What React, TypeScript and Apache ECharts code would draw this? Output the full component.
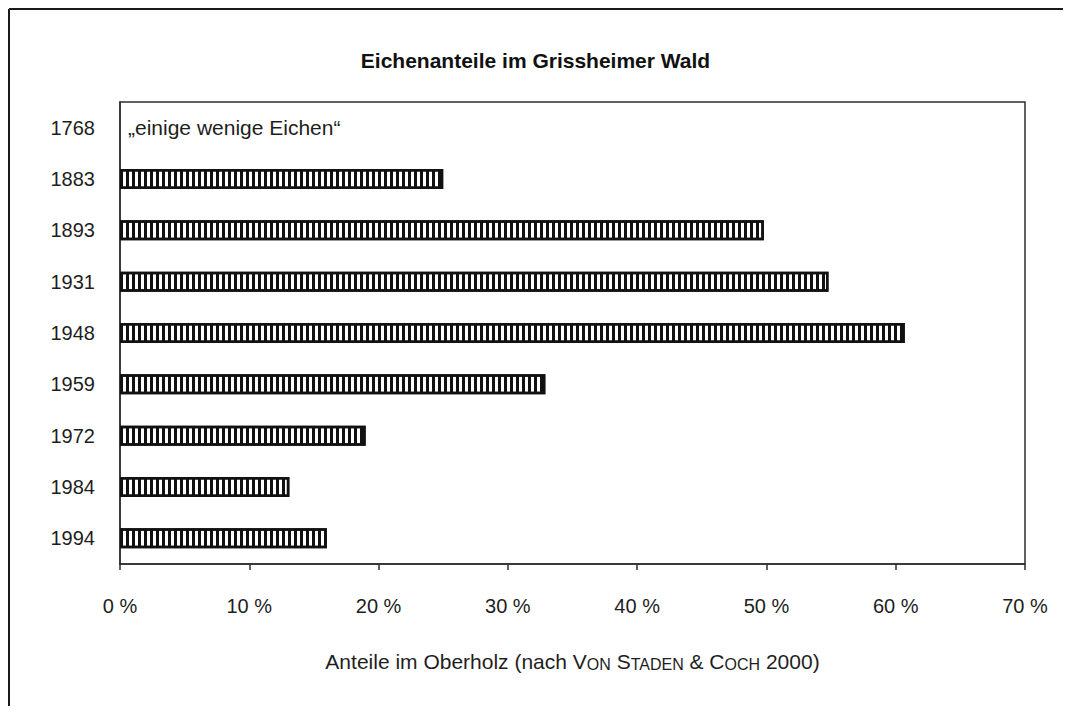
import React, { useEffect, useRef } from "react";
import * as echarts from "echarts";

const title = "Eichenanteile im Grissheimer Wald";
const years = ["1768", "1883", "1893", "1931", "1948", "1959", "1972", "1984", "1994"];
const shares = [0, 25, 49.8, 54.8, 60.7, 32.9, 19.0, 13.1, 16.0];
const noteText = "„einige wenige Eichen“";
const xTicks = [0, 10, 20, 30, 40, 50, 60, 70];
const axisName = "{n|Anteile im Oberholz (nach V}{s|ON}{n| S}{s|TADEN}{n| & C}{s|OCH}{n| 2000)}";

const FONT = "Liberation Sans, Arial, Helvetica, sans-serif";
const TEXT = "#1e1e1e";
const LINE = "#2e2e2e";

export default function App() {
  const ref = useRef<HTMLDivElement>(null);
  useEffect(() => {
    if (!ref.current) return;
    const chart = echarts.init(ref.current, null, { renderer: "svg" });
    const data = shares.map((v, i) =>
      i === 0
        ? {
            value: v,
            itemStyle: { borderWidth: 0, color: "rgba(0,0,0,0)", decal: "none" },
            label: {
              show: true,
              position: "right",
              distance: 8,
              formatter: noteText,
              color: TEXT,
              fontSize: 21,
              fontFamily: FONT,
            },
          }
        : v
    );
    chart.setOption({
      animation: false,
      title: {
        text: title,
        left: "center",
        top: 45,
        textStyle: { fontFamily: FONT, fontSize: 21, fontWeight: "bold", color: "#111" },
      },
      graphic: [
        {
          type: "line",
          silent: true,
          shape: { x1: 9, y1: 9, x2: 1200, y2: 9 },
          style: { stroke: "#1a1a1a", lineWidth: 2 },
        },
        {
          type: "line",
          silent: true,
          shape: { x1: 9, y1: 9, x2: 9, y2: 900 },
          style: { stroke: "#1a1a1a", lineWidth: 2 },
        },
      ],
      grid: {
        left: 120,
        right: 46,
        top: 102,
        bottom: 150,
        show: true,
        borderColor: LINE,
        borderWidth: 1.5,
        backgroundColor: "transparent",
      },
      xAxis: {
        type: "value",
        min: xTicks[0],
        max: xTicks[xTicks.length - 1],
        interval: 10,
        splitLine: { show: false },
        axisLine: { show: true, lineStyle: { color: LINE, width: 1.5 } },
        axisTick: { show: true, length: 6, lineStyle: { color: LINE, width: 1.5 } },
        axisLabel: {
          margin: 32,
          color: TEXT,
          fontSize: 20,
          fontFamily: FONT,
          formatter: (v: number) => `${v} %`,
        },
        name: axisName,
        nameLocation: "middle",
        nameGap: 84,
        nameTextStyle: {
          color: TEXT,
          fontSize: 21,
          fontFamily: FONT,
          rich: {
            n: { fontSize: 21, fontFamily: FONT, color: TEXT, lineHeight: 24, verticalAlign: "bottom" },
            s: { fontSize: 16, fontFamily: FONT, color: TEXT, lineHeight: 24, verticalAlign: "bottom" },
          },
        },
      },
      yAxis: {
        type: "category",
        inverse: true,
        data: years,
        axisLine: { show: true, lineStyle: { color: LINE, width: 1.5 } },
        axisTick: { show: false },
        splitLine: { show: false },
        axisLabel: { margin: 25, color: TEXT, fontSize: 20, fontFamily: FONT },
      },
      series: [
        {
          type: "bar",
          data,
          barWidth: 20,
          itemStyle: {
            color: "#ffffff",
            borderColor: "#111",
            borderWidth: 2.5,
            decal: {
              symbol: "rect",
              symbolSize: 1,
              dashArrayX: [3, 2.5],
              dashArrayY: [10, 0],
              rotation: 0,
              color: "#111",
            },
          },
        },
      ],
    });
    return () => chart.dispose();
  }, []);
  return <div ref={ref} style={{ width: 1071, height: 714, margin: -8, background: "#ffffff" }} />;
}
